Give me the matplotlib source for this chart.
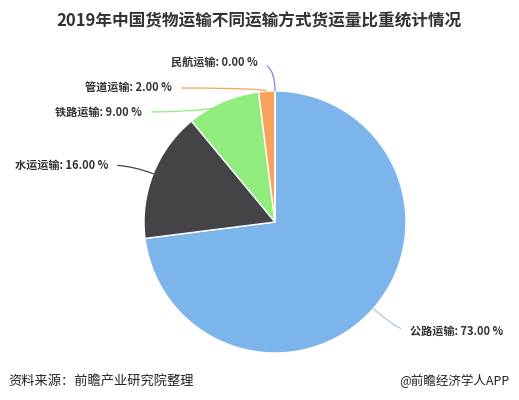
import numpy as np
from matplotlib import pyplot as plt

plt.rcParams['font.family'] = ['Noto Sans CJK SC', 'DejaVu Sans']

# data
modes = ['公路运输', '水运运输', '铁路运输', '管道运输', '民航运输']
shares = [73.00, 16.00, 9.00, 2.00, 0.00]
colors = ['#7cb5ec', '#434348', '#90ed7d', '#f7a35c', '#8085e9']

title = '2019年中国货物运输不同运输方式货运量比重统计情况'
source = '资料来源：前瞻产业研究院整理'
brand = '@前瞻经济学人APP'

W, H = 519, 400
fig = plt.figure(figsize=(W / 100, H / 100), dpi=100)
ax = fig.add_axes([0, 0, 1, 1])

cx, cy, r = 275, H - 222, 131

wedges, _ = ax.pie(shares, colors=colors, startangle=90, counterclock=False,
                   center=(cx, cy), radius=r, frame=True,
                   wedgeprops=dict(edgecolor='white', linewidth=1))
ax.set_xlim(0, W)
ax.set_ylim(0, H)
ax.set_aspect('auto')
ax.axis('off')

# label anchor points (pixel positions, y from top) and alignment
label_pos = [(410, 331, 'left'), (108, 165, 'right'), (142, 112, 'right'),
             (172, 88, 'right'), (258, 63, 'right')]
line_colors = ['#b0c8e0', '#434348', '#90ed7d', '#f7a35c', '#8085e9']

for w, m, s, (lx, ly, ha), lc in zip(wedges, modes, shares, label_pos, line_colors):
    mid = (w.theta1 + w.theta2) / 2
    ang = np.deg2rad(mid)
    px = cx + r * np.cos(ang)
    py = cy + r * np.sin(ang)
    ax.annotate(f'{m}: {s:.2f} %', xy=(px, py), xytext=(lx, H - ly),
                ha=ha, va='center', fontsize=8, fontweight='bold', color='#333333',
                arrowprops=dict(arrowstyle='-', color=lc, lw=0.9,
                                connectionstyle=f'angle3,angleA=0,angleB={mid:.1f}',
                                relpos=(1, 0.5) if ha == 'right' else (0, 0.5),
                                shrinkA=5, shrinkB=0))

fig.text(259 / W, 1 - 21 / H, title, ha='center', va='center',
         fontsize=12, fontweight='bold', color='#333333')
fig.text(8 / W, 1 - 381 / H, source, ha='left', va='center', fontsize=9.5, color='#222222')
fig.text(510 / W, 1 - 381 / H, brand, ha='right', va='center', fontsize=9, color='#222222')

fig.savefig('out.png', dpi=100)
